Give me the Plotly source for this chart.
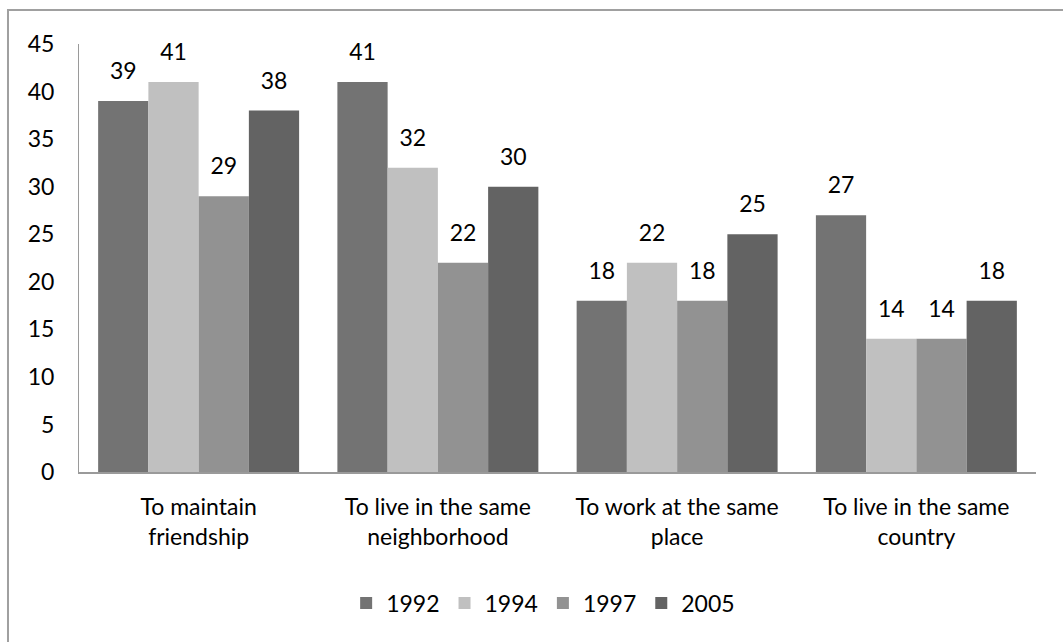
import plotly.graph_objects as go

categories = ["To maintain<br>friendship", "To live in the same<br>neighborhood",
              "To work at the same<br>place", "To live in the same<br>country"]
years = ["1992", "1994", "1997", "2005"]
v1992 = [39, 41, 18, 27]
v1994 = [41, 32, 22, 14]
v1997 = [29, 22, 18, 14]
v2005 = [38, 30, 25, 18]
series = [v1992, v1994, v1997, v2005]
colors = ["#737373", "#c0c0c0", "#929292", "#636363"]
y_ticks = [0, 5, 10, 15, 20, 25, 30, 35, 40, 45]

FONT = "Lato"
FS = 23
fig = go.Figure()
for name, vals, col in zip(years, series, colors):
    fig.add_trace(go.Bar(x=categories, y=vals, name=name, marker_color=col,
                         marker_line_width=0, offsetgroup=name,
                         cliponaxis=False))
for name, vals, col in zip(years, series, colors):
    fig.add_trace(go.Scatter(x=categories, y=vals, mode="markers+text", text=[str(v) for v in vals],
                             textposition="top center", offsetgroup=name,
                             marker=dict(size=24, color="rgba(0,0,0,0)"),
                             textfont=dict(size=FS, color="#000000", family=FONT),
                             showlegend=False, hoverinfo="skip", cliponaxis=False))

fig.update_layout(
    width=1063, height=642,
    margin=dict(l=79, r=27, t=44, b=170),
    paper_bgcolor="white", plot_bgcolor="white",
    barmode="group", scattermode="group", bargap=0.16, bargroupgap=0,
    font=dict(family=FONT, size=FS, color="#000000"),
    showlegend=True,
    legend=dict(orientation="h", x=0.485, xanchor="center", y=-0.306, yanchor="middle",
                font=dict(size=FS), itemwidth=30, traceorder="normal"),
    shapes=[dict(type="rect", xref="paper", yref="paper", x0=-0.0742, x1=1.2,
                 y0=-0.6, y1=1.0794, line=dict(color="#a0a0a0", width=2), layer="below")],
)
fig.update_yaxes(range=[0, 45], tickvals=y_ticks, showgrid=False, zeroline=False,
                 showline=True, linecolor="#9a9a9a", linewidth=1, ticks="",
                 ticklabelstandoff=19, tickfont=dict(size=FS))
fig.update_xaxes(showgrid=False, showline=True, linecolor="#9a9a9a", linewidth=2, ticks="",
                 ticklabelstandoff=13, tickfont=dict(size=FS))

fig.write_html("out.html")
